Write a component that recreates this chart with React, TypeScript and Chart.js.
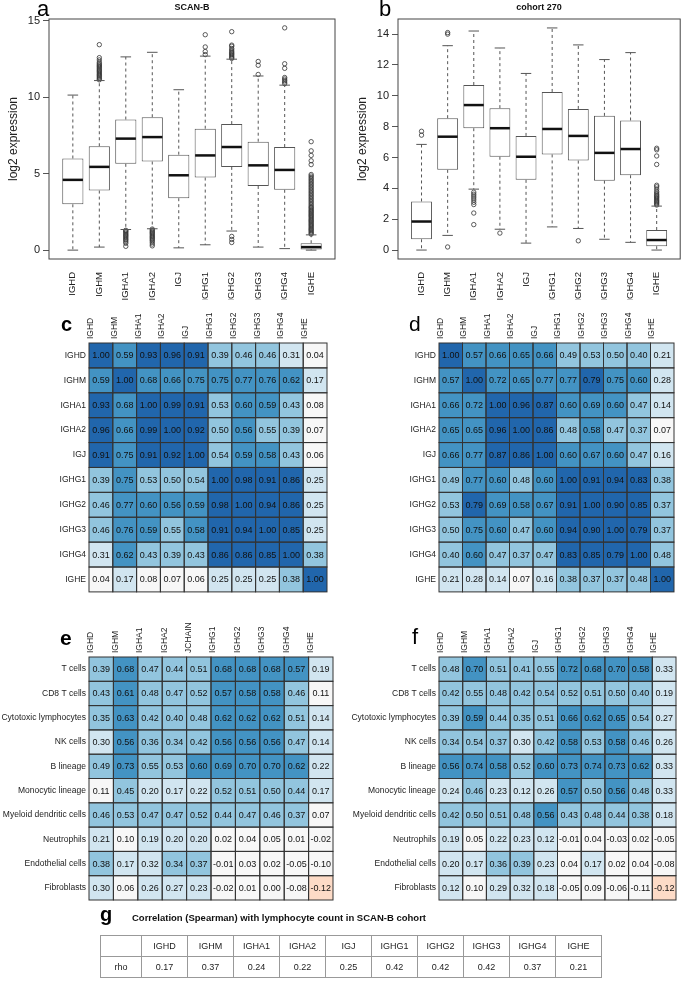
import React, { useEffect, useRef } from 'react';
import { Chart, registerables } from 'chart.js';
Chart.register(...registerables);

const FONT = '"Liberation Sans", Arial, Helvetica, sans-serif';
Chart.defaults.font.family = FONT;

// ---------- categories ----------
const genes = ['IGHD', 'IGHM', 'IGHA1', 'IGHA2', 'IGJ', 'IGHG1', 'IGHG2', 'IGHG3', 'IGHG4', 'IGHE'];
const genesJchain = ['IGHD', 'IGHM', 'IGHA1', 'IGHA2', 'JCHAIN', 'IGHG1', 'IGHG2', 'IGHG3', 'IGHG4', 'IGHE'];
const cellTypes = ['T cells', 'CD8 T cells', 'Cytotoxic lymphocytes', 'NK cells', 'B lineage', 'Monocytic lineage', 'Myeloid dendritic cells', 'Neutrophils', 'Endothelial cells', 'Fibroblasts'];

// ---------- panel a: SCAN-B boxplots ----------
const scanbQ1 = [3.0, 3.9, 5.65, 5.8, 3.4, 4.75, 5.45, 4.2, 3.95, 0.05];
const scanbMedian = [4.6, 5.45, 7.3, 7.4, 4.9, 6.2, 6.75, 5.55, 5.25, 0.2];
const scanbQ3 = [6.0, 6.8, 8.55, 8.7, 6.25, 7.95, 8.25, 7.1, 6.75, 0.45];
const scanbLow = [0.0, 0.2, 1.35, 1.4, 0.15, 0.35, 1.25, 0.2, 0.1, 0.0];
const scanbHigh = [10.15, 11.1, 12.65, 12.95, 10.5, 12.7, 12.5, 11.4, 10.8, 1.0];
const scanbOutliers: number[][] = [
  [],
  [11.15, 11.22, 11.3, 11.38, 11.45, 11.52, 11.6, 11.68, 11.75, 11.82, 11.9, 11.98, 12.05, 12.12, 12.2, 12.3, 12.45, 12.6, 13.45],
  [1.3, 1.25, 1.18, 1.1, 1.02, 0.95, 0.88, 0.8, 0.72, 0.65, 0.55, 0.45, 0.25],
  [1.38, 1.3, 1.22, 1.15, 1.08, 1.0, 0.92, 0.85, 0.78, 0.7, 0.62, 0.52, 0.4, 0.28],
  [],
  [12.8, 13.0, 13.3, 14.1],
  [12.55, 12.62, 12.7, 12.78, 12.85, 12.92, 13.0, 13.1, 13.2, 13.35, 13.42, 14.3, 0.5, 0.7, 0.9],
  [11.5, 12.1, 12.35],
  [10.9, 11.0, 11.1, 11.2, 11.3, 11.9, 12.2, 14.55],
  [1.05, 1.12, 1.2, 1.28, 1.35, 1.42, 1.5, 1.58, 1.65, 1.72, 1.8, 1.88, 1.95, 2.02, 2.1, 2.18, 2.25, 2.32, 2.4, 2.48, 2.55, 2.62, 2.7, 2.78, 2.85, 2.95, 3.05, 3.15, 3.25, 3.35, 3.45, 3.55, 3.65, 3.75, 3.85, 3.95, 4.05, 4.15, 4.25, 4.35, 4.45, 4.55, 4.65, 4.75, 4.85, 4.95, 5.6, 5.85, 6.2, 6.5, 7.1],
];
const scanbTicks = [0, 5, 10, 15];

// ---------- panel b: cohort 270 boxplots ----------
const cohortQ1 = [0.7, 5.2, 7.9, 6.05, 4.55, 6.2, 5.8, 4.5, 4.85, 0.25];
const cohortMedian = [1.85, 7.35, 9.4, 7.9, 6.05, 7.85, 7.4, 6.3, 6.55, 0.65];
const cohortQ3 = [3.15, 8.55, 10.7, 9.2, 7.4, 10.25, 9.15, 8.7, 8.4, 1.3];
const cohortLow = [0.0, 0.95, 3.95, 1.35, 0.45, 1.5, 1.4, 0.7, 0.5, 0.0];
const cohortHigh = [6.85, 13.25, 14.2, 13.1, 11.45, 14.4, 13.3, 12.35, 12.8, 2.85];
const cohortOutliers: number[][] = [
  [7.45, 7.7],
  [0.2, 14.0, 14.1],
  [3.75, 3.62, 3.5, 3.38, 3.25, 3.1, 2.95, 2.4, 1.65],
  [1.1],
  [],
  [],
  [0.6],
  [],
  [],
  [2.92, 3.0, 3.08, 3.15, 3.22, 3.3, 3.38, 3.45, 3.52, 3.6, 3.7, 3.8, 3.95, 4.1, 4.2, 5.55, 6.1, 6.5, 6.6],
];
const cohortTicks = [0, 2, 4, 6, 8, 10, 12, 14];

// ---------- panel c: SCAN-B gene-gene correlation ----------
const corrScanb: number[][] = [
  [1.00, 0.59, 0.93, 0.96, 0.91, 0.39, 0.46, 0.46, 0.31, 0.04],
  [0.59, 1.00, 0.68, 0.66, 0.75, 0.75, 0.77, 0.76, 0.62, 0.17],
  [0.93, 0.68, 1.00, 0.99, 0.91, 0.53, 0.60, 0.59, 0.43, 0.08],
  [0.96, 0.66, 0.99, 1.00, 0.92, 0.50, 0.56, 0.55, 0.39, 0.07],
  [0.91, 0.75, 0.91, 0.92, 1.00, 0.54, 0.59, 0.58, 0.43, 0.06],
  [0.39, 0.75, 0.53, 0.50, 0.54, 1.00, 0.98, 0.91, 0.86, 0.25],
  [0.46, 0.77, 0.60, 0.56, 0.59, 0.98, 1.00, 0.94, 0.86, 0.25],
  [0.46, 0.76, 0.59, 0.55, 0.58, 0.91, 0.94, 1.00, 0.85, 0.25],
  [0.31, 0.62, 0.43, 0.39, 0.43, 0.86, 0.86, 0.85, 1.00, 0.38],
  [0.04, 0.17, 0.08, 0.07, 0.06, 0.25, 0.25, 0.25, 0.38, 1.00],
];

// ---------- panel d: cohort 270 gene-gene correlation ----------
const corrCohort: number[][] = [
  [1.00, 0.57, 0.66, 0.65, 0.66, 0.49, 0.53, 0.50, 0.40, 0.21],
  [0.57, 1.00, 0.72, 0.65, 0.77, 0.77, 0.79, 0.75, 0.60, 0.28],
  [0.66, 0.72, 1.00, 0.96, 0.87, 0.60, 0.69, 0.60, 0.47, 0.14],
  [0.65, 0.65, 0.96, 1.00, 0.86, 0.48, 0.58, 0.47, 0.37, 0.07],
  [0.66, 0.77, 0.87, 0.86, 1.00, 0.60, 0.67, 0.60, 0.47, 0.16],
  [0.49, 0.77, 0.60, 0.48, 0.60, 1.00, 0.91, 0.94, 0.83, 0.38],
  [0.53, 0.79, 0.69, 0.58, 0.67, 0.91, 1.00, 0.90, 0.85, 0.37],
  [0.50, 0.75, 0.60, 0.47, 0.60, 0.94, 0.90, 1.00, 0.79, 0.37],
  [0.40, 0.60, 0.47, 0.37, 0.47, 0.83, 0.85, 0.79, 1.00, 0.48],
  [0.21, 0.28, 0.14, 0.07, 0.16, 0.38, 0.37, 0.37, 0.48, 1.00],
];

// ---------- panel e: SCAN-B cell type correlation ----------
const cellScanb: number[][] = [
  [0.39, 0.68, 0.47, 0.44, 0.51, 0.68, 0.68, 0.68, 0.57, 0.19],
  [0.43, 0.61, 0.48, 0.47, 0.52, 0.57, 0.58, 0.58, 0.46, 0.11],
  [0.35, 0.63, 0.42, 0.40, 0.48, 0.62, 0.62, 0.62, 0.51, 0.14],
  [0.30, 0.56, 0.36, 0.34, 0.42, 0.56, 0.56, 0.56, 0.47, 0.14],
  [0.49, 0.73, 0.55, 0.53, 0.60, 0.69, 0.70, 0.70, 0.62, 0.22],
  [0.11, 0.45, 0.20, 0.17, 0.22, 0.52, 0.51, 0.50, 0.44, 0.17],
  [0.46, 0.53, 0.47, 0.47, 0.52, 0.44, 0.47, 0.46, 0.37, 0.07],
  [0.21, 0.10, 0.19, 0.20, 0.20, 0.02, 0.04, 0.05, 0.01, -0.02],
  [0.38, 0.17, 0.32, 0.34, 0.37, -0.01, 0.03, 0.02, -0.05, -0.10],
  [0.30, 0.06, 0.26, 0.27, 0.23, -0.02, 0.01, 0.00, -0.08, -0.12],
];

// ---------- panel f: cohort 270 cell type correlation ----------
const cellCohort: number[][] = [
  [0.48, 0.70, 0.51, 0.41, 0.55, 0.72, 0.68, 0.70, 0.58, 0.33],
  [0.42, 0.55, 0.48, 0.42, 0.54, 0.52, 0.51, 0.50, 0.40, 0.19],
  [0.39, 0.59, 0.44, 0.35, 0.51, 0.66, 0.62, 0.65, 0.54, 0.27],
  [0.34, 0.54, 0.37, 0.30, 0.42, 0.58, 0.53, 0.58, 0.46, 0.26],
  [0.56, 0.74, 0.58, 0.52, 0.60, 0.73, 0.74, 0.73, 0.62, 0.33],
  [0.24, 0.46, 0.23, 0.12, 0.26, 0.57, 0.50, 0.56, 0.48, 0.33],
  [0.42, 0.50, 0.51, 0.48, 0.56, 0.43, 0.48, 0.44, 0.38, 0.18],
  [0.19, 0.05, 0.22, 0.23, 0.12, -0.01, 0.04, -0.03, 0.02, -0.05],
  [0.20, 0.17, 0.36, 0.39, 0.23, 0.04, 0.17, 0.02, 0.04, -0.08],
  [0.12, 0.10, 0.29, 0.32, 0.18, -0.05, 0.09, -0.06, -0.11, -0.12],
];

// ---------- panel g: lymphocyte count correlation ----------
const rhoLymph = [0.17, 0.37, 0.24, 0.22, 0.25, 0.42, 0.42, 0.42, 0.37, 0.21];

// RdBu 9-class palette over [-1, 1]
const rdbu = ['#b2182b', '#d6604d', '#f4a582', '#fddbc7', '#f7f7f7', '#d1e5f0', '#92c5de', '#4393c3', '#2166ac'];
function cellColor(v: number) {
  let idx = Math.floor((v + 1) / (2 / 9) + 1e-9);
  if (idx < 0) idx = 0;
  if (idx > 8) idx = 8;
  return rdbu[idx];
}

type BoxProps = {
  left: number; top: number; width: number; height: number;
  padLeft: number; padRight: number; title: string;
  q1: number[]; med: number[]; q3: number[]; lo: number[]; hi: number[];
  outliers: number[][]; yMin: number; yMax: number; yTicks: number[];
};

function BoxPanel(p: BoxProps) {
  const ref = useRef<HTMLCanvasElement>(null);
  useEffect(() => {
    const names = genes;
    const boxData = names.map((_, i) => ({ x: i + 1, y: [p.q1[i], p.q3[i]] }));
    const outData: { x: number; y: number }[] = [];
    p.outliers.forEach((arr, i) => arr.forEach((v) => outData.push({ x: i + 1, y: v })));
    const extras = {
      id: 'boxExtras',
      afterDatasetsDraw(chart: any) {
        const { ctx, scales } = chart;
        const y = scales.y;
        const meta = chart.getDatasetMeta(0);
        ctx.save();
        meta.data.forEach((bar: any, i: number) => {
          const cx = bar.x;
          const half = bar.width / 2;
          const cap = half / 2;
          const yq1 = y.getPixelForValue(p.q1[i]);
          const yq3 = y.getPixelForValue(p.q3[i]);
          const ylo = y.getPixelForValue(p.lo[i]);
          const yhi = y.getPixelForValue(p.hi[i]);
          ctx.strokeStyle = '#555';
          ctx.lineWidth = 1;
          ctx.setLineDash([3, 3]);
          ctx.beginPath();
          ctx.moveTo(cx, yq3); ctx.lineTo(cx, yhi);
          ctx.moveTo(cx, yq1); ctx.lineTo(cx, ylo);
          ctx.stroke();
          ctx.setLineDash([]);
          ctx.beginPath();
          ctx.moveTo(cx - cap, yhi); ctx.lineTo(cx + cap, yhi);
          ctx.moveTo(cx - cap, ylo); ctx.lineTo(cx + cap, ylo);
          ctx.stroke();
          const ym = y.getPixelForValue(p.med[i]);
          ctx.strokeStyle = '#111';
          ctx.lineWidth = 2.5;
          ctx.beginPath();
          ctx.moveTo(cx - half + 0.5, ym); ctx.lineTo(cx + half - 0.5, ym);
          ctx.stroke();
        });
        const a = chart.chartArea;
        ctx.strokeStyle = '#444';
        ctx.lineWidth = 1;
        ctx.strokeRect(a.left, a.top, a.right - a.left, a.bottom - a.top);
        ctx.fillStyle = '#111';
        ctx.font = `bold 9px ${FONT}`;
        ctx.textAlign = 'center';
        ctx.textBaseline = 'middle';
        ctx.fillText(p.title, (a.left + a.right) / 2, a.top - 11);
        ctx.restore();
      },
    };
    const chart = new Chart(ref.current as HTMLCanvasElement, {
      type: 'bar',
      data: {
        datasets: [
          {
            type: 'bar', data: boxData as any, backgroundColor: '#ffffff', borderColor: '#555',
            borderWidth: 1, borderSkipped: false, barPercentage: 0.8, categoryPercentage: 1, order: 1,
          } as any,
          {
            type: 'line', data: outData as any, showLine: false, pointRadius: 2.2, pointBorderWidth: 0.8,
            pointBorderColor: '#333', pointBackgroundColor: 'rgba(0,0,0,0)', order: 0,
          } as any,
        ],
      },
      options: {
        animation: false,
        responsive: false,
        events: [],
        layout: { padding: { left: p.padLeft, top: 19, right: p.padRight, bottom: 0 } },
        plugins: { legend: { display: false }, tooltip: { enabled: false }, title: { display: false } },
        scales: {
          x: {
            type: 'linear', min: 0.1, max: 10.9, offset: false,
            grid: { display: false, drawTicks: false, offset: false } as any,
            border: { display: false },
            afterBuildTicks: (s: any) => { s.ticks = names.map((_, i) => ({ value: i + 1 })); },
            ticks: {
              autoSkip: false, minRotation: 90, maxRotation: 90, padding: 13,
              font: { size: 9.5 }, color: '#222',
              callback: (v: any) => names[Math.round(Number(v)) - 1] ?? '',
            },
            afterFit: (s: any) => { s.height = 41; },
          },
          y: {
            type: 'linear', min: p.yMin, max: p.yMax,
            grid: { drawOnChartArea: false, drawTicks: true, tickLength: 6, color: '#555' },
            border: { display: false },
            afterBuildTicks: (s: any) => { s.ticks = p.yTicks.map((v) => ({ value: v })); },
            ticks: { padding: 3, font: { size: 11 }, color: '#222' },
            title: { display: true, text: 'log2 expression', font: { size: 12 }, color: '#222', padding: { top: 6, bottom: 0 } },
            afterFit: (s: any) => { s.width = 49; },
          },
        },
      } as any,
      plugins: [extras],
    });
    return () => chart.destroy();
  }, []);
  return (
    <canvas ref={ref} width={p.width} height={p.height}
      style={{ position: 'absolute', left: p.left, top: p.top, width: p.width, height: p.height }} />
  );
}

type HeatProps = {
  left: number; top: number; width: number; height: number;
  areaL: number; areaT: number; areaR: number; areaB: number;
  yAxisW: number; xAxisH: number;
  rows: string[]; cols: string[]; matrix: number[][];
};

function HeatPanel(p: HeatProps) {
  const ref = useRef<HTMLCanvasElement>(null);
  useEffect(() => {
    const cells = {
      id: 'heatCells',
      afterDatasetsDraw(chart: any) {
        const ctx = chart.ctx;
        ctx.save();
        ctx.strokeStyle = '#333';
        ctx.lineWidth = 1;
        const boxes: any[] = [];
        chart.data.datasets.forEach((_: any, di: number) => {
          const meta = chart.getDatasetMeta(di);
          meta.data.forEach((el: any, ci: number) => {
            const top = Math.min(el.y, el.base);
            const h = Math.abs(el.base - el.y);
            ctx.strokeRect(el.x - el.width / 2, top, el.width, h);
            boxes.push({ x: el.x, y: top + h / 2, v: p.matrix[di][ci] });
          });
        });
        ctx.fillStyle = '#111';
        ctx.font = `9px ${FONT}`;
        ctx.textAlign = 'center';
        ctx.textBaseline = 'middle';
        boxes.forEach((b) => ctx.fillText(b.v.toFixed(2), b.x, b.y + 0.5));
        ctx.restore();
      },
    };
    const chart = new Chart(ref.current as HTMLCanvasElement, {
      type: 'bar',
      data: {
        labels: p.cols,
        datasets: p.rows.map((_, ri) => ({
          data: p.matrix[ri].map(() => [ri, ri + 1]),
          backgroundColor: p.matrix[ri].map(cellColor),
          borderWidth: 0,
          grouped: false,
          barPercentage: 1,
          categoryPercentage: 1,
        })) as any,
      },
      options: {
        animation: false,
        responsive: false,
        events: [],
        layout: {
          padding: {
            left: p.areaL - p.yAxisW, top: p.areaT - p.xAxisH,
            right: p.width - p.areaR, bottom: p.height - p.areaB,
          },
        },
        plugins: { legend: { display: false }, tooltip: { enabled: false } },
        scales: {
          x: {
            position: 'top',
            grid: { display: false, drawTicks: false },
            border: { display: false },
            ticks: { autoSkip: false, minRotation: 90, maxRotation: 90, padding: 4, font: { size: 8.5 }, color: '#222' },
            afterFit: (s: any) => { s.height = p.xAxisH; },
          },
          y: {
            type: 'linear', min: 0, max: 10, reverse: true,
            grid: { display: false, drawTicks: false },
            border: { display: false },
            afterBuildTicks: (s: any) => { s.ticks = p.rows.map((_, i) => ({ value: i + 0.5 })); },
            ticks: {
              autoSkip: false, padding: 3, font: { size: 8.5 }, color: '#222',
              callback: (v: any) => p.rows[Math.floor(Number(v))] ?? '',
            },
            afterFit: (s: any) => { s.width = p.yAxisW; },
          },
        },
      } as any,
      plugins: [cells],
    });
    return () => chart.destroy();
  }, []);
  return (
    <canvas ref={ref} width={p.width} height={p.height}
      style={{ position: 'absolute', left: p.left, top: p.top, width: p.width, height: p.height }} />
  );
}

function Letter({ ch, left, top, size, bold }: { ch: string; left: number; top: number; size: number; bold?: boolean }) {
  return (
    <div style={{ position: 'absolute', left, top, fontSize: size, lineHeight: 1, fontWeight: bold ? 700 : 400, color: '#000', fontFamily: FONT }}>
      {ch}
    </div>
  );
}

const cellStyle = (w: number): React.CSSProperties => ({
  border: '1px solid #999', width: w, padding: 0, textAlign: 'center', verticalAlign: 'middle', height: 20,
});

export default function App() {
  return (
    <div style={{ position: 'absolute', left: 0, top: 0, width: 685, height: 1002, background: '#fff', fontFamily: FONT, overflow: 'hidden' }}>
      <BoxPanel left={0} top={0} width={342} height={300} padLeft={0} padRight={7} title="SCAN-B"
        q1={scanbQ1} med={scanbMedian} q3={scanbQ3} lo={scanbLow} hi={scanbHigh}
        outliers={scanbOutliers} yMin={-0.58} yMax={15.13} yTicks={scanbTicks} />
      <BoxPanel left={342} top={0} width={343} height={300} padLeft={7} padRight={2} title="cohort 270"
        q1={cohortQ1} med={cohortMedian} q3={cohortQ3} lo={cohortLow} hi={cohortHigh}
        outliers={cohortOutliers} yMin={-0.58} yMax={14.98} yTicks={cohortTicks} />

      <HeatPanel left={0} top={300} width={340} height={300} areaL={89} areaT={43} areaR={327} areaB={295}
        yAxisW={60} xAxisH={40} rows={genes} cols={genes} matrix={corrScanb} />
      <HeatPanel left={342} top={300} width={343} height={300} areaL={97} areaT={43} areaR={332} areaB={295}
        yAxisW={60} xAxisH={40} rows={genes} cols={genes} matrix={corrCohort} />

      <HeatPanel left={0} top={610} width={342} height={300} areaL={89} areaT={47} areaR={333} areaB={290}
        yAxisW={89} xAxisH={44} rows={cellTypes} cols={genesJchain} matrix={cellScanb} />
      <HeatPanel left={342} top={610} width={343} height={300} areaL={97} areaT={47} areaR={334} areaB={290}
        yAxisW={95} xAxisH={44} rows={cellTypes} cols={genes} matrix={cellCohort} />

      <Letter ch="a" left={37} top={-2} size={22} />
      <Letter ch="b" left={379} top={-2} size={22} />
      <Letter ch="c" left={61} top={314} size={20} bold />
      <Letter ch="d" left={409} top={313} size={21} />
      <Letter ch="e" left={60} top={627} size={21} bold />
      <Letter ch="f" left={412} top={626} size={22} />
      <Letter ch="g" left={100} top={904} size={20} bold />

      <div style={{ position: 'absolute', left: 94, width: 370, top: 912, textAlign: 'center', fontSize: 9.5, fontWeight: 700, color: '#111' }}>
        Correlation (Spearman) with lymphocyte count in SCAN-B cohort
      </div>
      <table style={{ position: 'absolute', left: 100, top: 935, borderCollapse: 'collapse', tableLayout: 'fixed', fontSize: 9, color: '#222', fontFamily: FONT }}>
        <tbody>
          <tr>
            <td style={cellStyle(40)}></td>
            {genes.map((g) => <td key={g} style={cellStyle(45)}>{g}</td>)}
          </tr>
          <tr>
            <td style={cellStyle(40)}>rho</td>
            {rhoLymph.map((v, i) => <td key={i} style={cellStyle(45)}>{v.toFixed(2)}</td>)}
          </tr>
        </tbody>
      </table>
    </div>
  );
}
